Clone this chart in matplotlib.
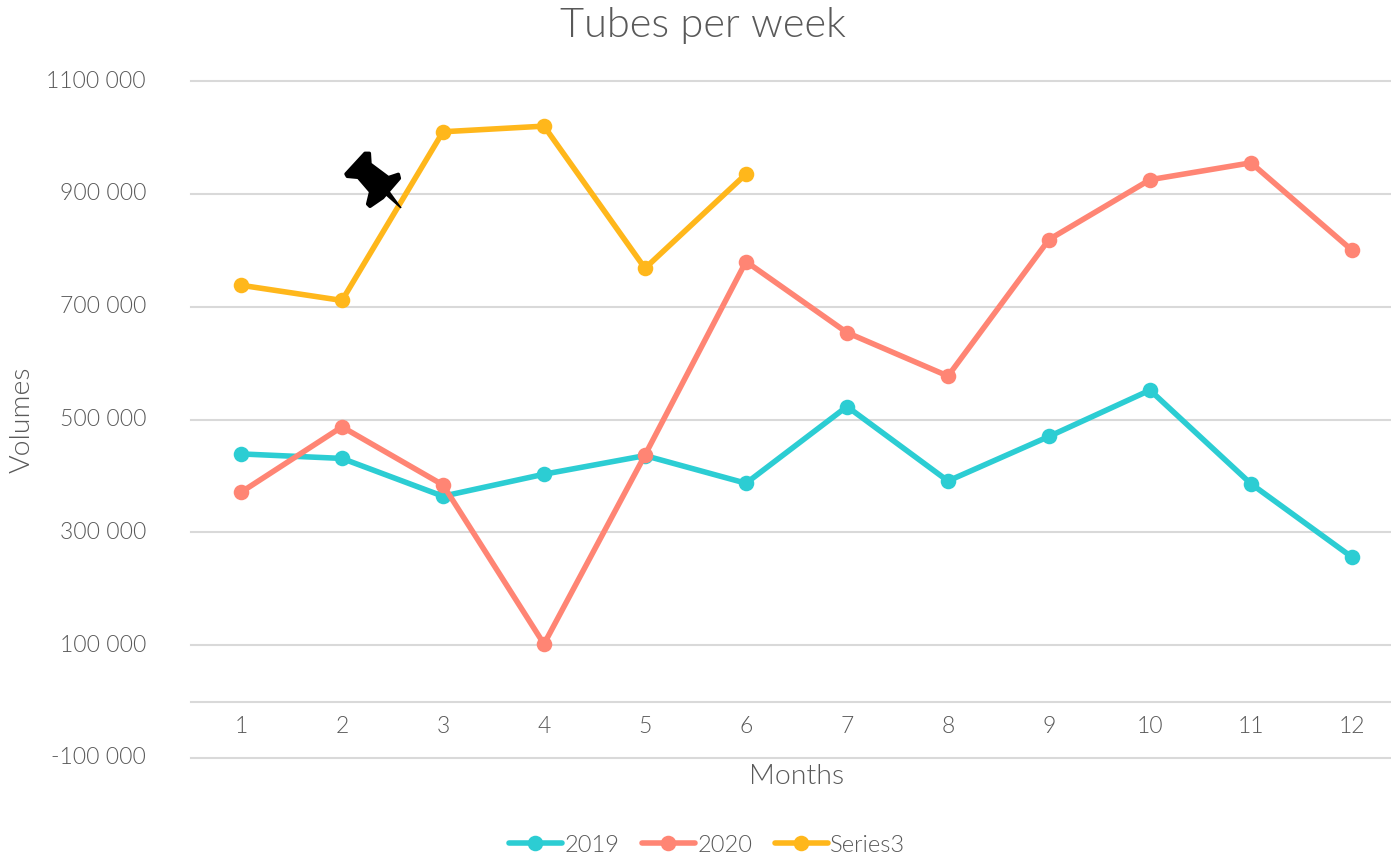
import matplotlib
matplotlib.use("Agg")
import matplotlib.pyplot as plt
from matplotlib.patches import Polygon
from matplotlib.transforms import Affine2D, ScaledTranslation
from matplotlib.lines import Line2D

months = [1, 2, 3, 4, 5, 6, 7, 8, 9, 10, 11, 12]
series_2019 = [439000, 431000, 364000, 403000, 436000, 387000, 523000, 391000, 470000, 552000, 386000, 256000]
series_2020 = [371000, 487000, 384000, 102000, 437000, 780000, 654000, 577000, 819000, 925000, 955000, 800000]
series_3 = [738000, 711000, 1010000, 1020000, 768000, 935000]
y_ticks = [-100000, 100000, 300000, 500000, 700000, 900000, 1100000]
y_labels = ["-100 000", "100 000", "300 000", "500 000", "700 000", "900 000", "1100 000"]
names = ["2019", "2020", "Series3"]
colors = ["#2CCDD3", "#FF8574", "#FFB71B"]

W, H = 1391, 857
plt.rcParams['font.family'] = ['Lato', 'DejaVu Sans']
plt.rcParams['font.weight'] = 300
TXT = "#595959"
GRID = "#D9D9D9"
LW = 4.0
MS = 11.2

fig = plt.figure(figsize=(W / 100, H / 100), dpi=100, facecolor="white")
ax = fig.add_axes([190.5 / W, (H - 758) / H, 1212 / W, 677 / H])
ax.set_xlim(0.5, 12.5)
ax.set_ylim(-100000, 1100000)

for (vals, c, n) in zip([series_2019, series_2020, series_3], colors, names):
    ax.plot(months[:len(vals)], vals, color=c, lw=LW, marker="o", ms=MS, mew=0,
            solid_capstyle="round", solid_joinstyle="round", label=n, zorder=3)

ax.set_yticks(y_ticks, y_labels)
ax.set_xticks(months, [str(m) for m in months])
ax.yaxis.grid(True, color=GRID, lw=1.5, clip_on=False)
ax.set_axisbelow(True)
for s in ["top", "left", "right"]:
    ax.spines[s].set_visible(False)
ax.spines["bottom"].set_position(("data", 0))
ax.spines["bottom"].set_color(GRID)
ax.spines["bottom"].set_linewidth(1.5)
ax.tick_params(axis="both", length=0, labelsize=16.5, labelcolor=TXT)
ax.tick_params(axis="y", pad=32)
ax.tick_params(axis="x", pad=10.5)
shift = ScaledTranslation(0, 2 / 100, fig.dpi_scale_trans)
for l in ax.get_yticklabels():
    l.set_clip_on(False)
    l.set_transform(l.get_transform() + shift)

def fx(px): return px / W
def fy(py): return 1 - py / H

fig.text(fx(703), fy(26), "Tubes per week", ha="center", va="center", fontsize=30, color=TXT)
fig.text(fx(797), fy(776), "Months", ha="center", va="center", fontsize=20.5, color=TXT)
fig.text(fx(22), fy(420), "Volumes", ha="center", va="center", rotation=90, fontsize=20.5, color=TXT)

handles = [Line2D([], [], color=c, lw=LW, marker="o", ms=MS, mew=0, solid_capstyle="round") for c in colors]
fig.legend(handles, names, loc="center", bbox_to_anchor=(fx(707), fy(845)), ncols=3, frameon=False,
           fontsize=17, labelcolor=TXT, handlelength=2.25, handletextpad=0.1, columnspacing=0.95,
           borderpad=0, borderaxespad=0)

# Pin decoration, pixel-space shape
pin_zoom = [(78, 132), (135, 70), (148, 70), (150, 102), (205, 143), (235, 133), (238, 145),
            (188, 203), (150, 229), (143, 222), (152, 185), (115, 142), (82, 139)]
pin_px = [(320 + x / 3, H - (130 + y / 3)) for x, y in pin_zoom]
fig.add_artist(Polygon(pin_px, closed=True, facecolor="black", edgecolor="black", lw=2.5,
                       joinstyle="round", transform=Affine2D(), zorder=5))
needle_zoom = [(190, 190), (205, 178), (245, 233), (241, 235)]
needle_px = [(320 + x / 3, H - (130 + y / 3)) for x, y in needle_zoom]
fig.add_artist(Polygon(needle_px, closed=True, facecolor="black", edgecolor="none",
                       transform=Affine2D(), zorder=5))

fig.savefig("out.png", dpi=100)
